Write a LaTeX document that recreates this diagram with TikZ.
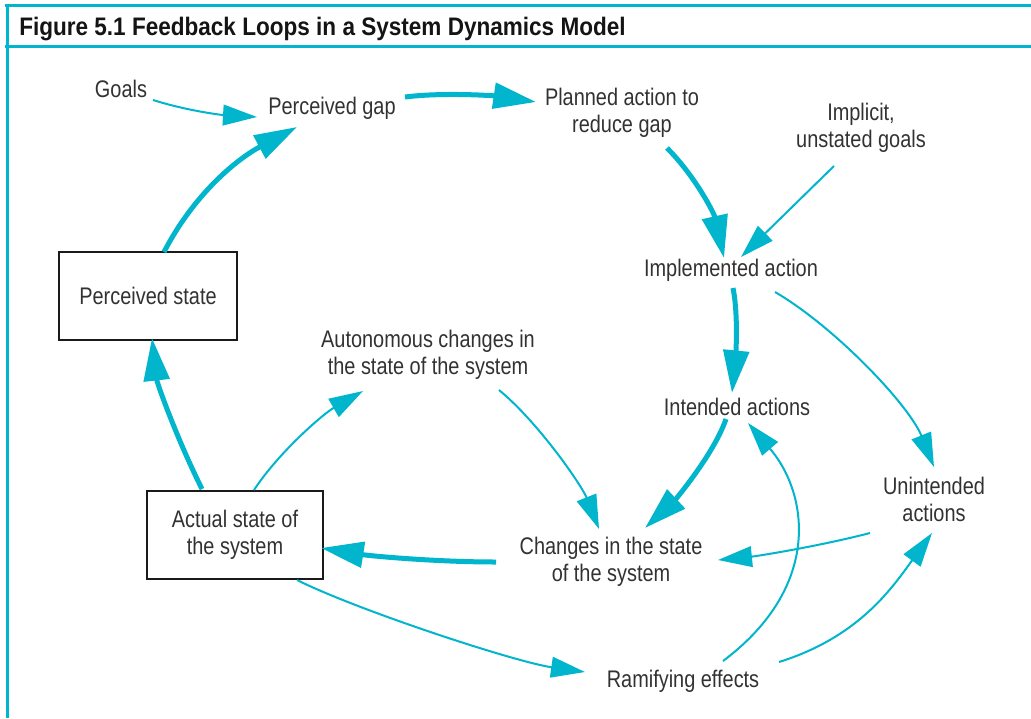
\documentclass[tikz,border=0pt]{standalone}
\usepackage{fontspec}
\setmainfont{Liberation Sans}[FakeStretch=0.83]
\newfontfamily\titlefont{Liberation Sans}[FakeStretch=0.89]
\usetikzlibrary{arrows.meta,calc}
\definecolor{cy}{RGB}{0,181,204}
\definecolor{txt}{RGB}{50,50,50}
\definecolor{boxc}{RGB}{26,26,26}
\definecolor{titc}{RGB}{20,20,20}
\begin{document}
\begin{tikzpicture}[x=0.75pt,y=-0.75pt,
  lbl/.style={text=txt, font=\fontsize{18pt}{20.25pt}\selectfont, align=center, inner sep=0pt},
  box/.style={lbl, draw=boxc, line width=1.5pt},
  thinarr/.style={draw=cy, line width=1.5pt, -{Triangle[length=25.5pt,width=15.5pt]}},
  thickarr/.style={draw=cy, line width=3.75pt, -{Triangle[length=32pt,width=19pt]}},
  frameline/.style={draw=cy, line width=2.25pt}
]
\useasboundingbox (0,0) rectangle (1031,718);
% frame
\draw[frameline] (5,5.5) -- (1031,5.5);
\draw[frameline] (5,46.5) -- (1031,46.5);
\draw[frameline] (7,4.5) -- (7,718);
\node[anchor=base west, inner sep=0pt, text=titc, font=\titlefont\bfseries\fontsize{19pt}{22pt}\selectfont] (title) at (19,35) {Figure 5.1 Feedback Loops in a System Dynamics Model};

% nodes
\node[lbl] (goals) at (121,89) {Goals};
\node[lbl] (gap) at (332,108) {Perceived gap};
\node[lbl] (planned) at (622,113) {Planned action to\\reduce gap};
\node[lbl] (implicit) at (861,128) {Implicit,\\unstated goals};
\node[lbl] (impl) at (731,270) {Implemented action};
\node[box, minimum width=133.5pt, minimum height=66pt] (pstate) at (148,296) {Perceived state};
\node[lbl] (auto) at (428,355) {Autonomous changes in\\the state of the system};
\node[box, minimum width=132pt, minimum height=66pt] (astate) at (235,535) {Actual state of\\the system};
\node[lbl] (intended) at (737,407) {Intended actions};
\node[lbl] (unint) at (934,499) {Unintended\\actions};
\node[lbl] (changes) at (611,562) {Changes in the state\\of the system};
\node[lbl] (ramify) at (683,681) {Ramifying effects};

% connectors
\draw[thinarr] ($(goals)+(32,11)$) .. controls +(35,11) and +(-35,-2) .. ($(gap)+(-75,9)$);
\draw[thickarr] ($(pstate)+(16,-44)$) .. controls +(30,-58) and +(-60,32) .. ($(gap)+(-35,19)$);
\draw[thickarr] ($(gap)+(73,-11)$) .. controls +(40,-5) and +(-40,-6) .. ($(planned)+(-86,-11)$);
\draw[thickarr] ($(planned)+(45,35)$) .. controls +(28,28) and +(-10,-45) .. ($(impl)+(-7,-12)$);
\draw[thinarr] ($(implicit)+(-27,38)$) -- ($(impl)+(10,-13)$);
\draw[thickarr] ($(impl)+(2,18)$) .. controls +(6,30) and +(3,-30) .. ($(intended)+(-5,-14)$);
\draw[thinarr] ($(impl)+(44,22)$) .. controls +(60,35) and +(-25,-62) .. ($(unint)+(0,-32)$);
\draw[thickarr] ($(intended)+(-11,12)$) .. controls +(-12,35) and +(30,-28) .. ($(changes)+(34,-34)$);
\draw[thinarr] ($(auto)+(71,35)$) .. controls +(40,33) and +(-17,-43) .. ($(changes)+(-12,-33)$);
\draw[thinarr] ($(astate)+(19,-45)$) .. controls +(25,-38) and +(-40,23) .. ($(auto)+(-65,36)$);
\draw[thickarr] ($(astate)+(-33,-46)$) .. controls +(-25,-50) and +(5,45) .. ($(pstate)+(4,42)$);
\draw[thickarr] ($(changes)+(-115,0)$) .. controls +(-60,0) and +(50,8) .. ($(astate)+(86,13)$);
\draw[thinarr] ($(unint)+(-64,34)$) .. controls +(-50,13) and +(40,-4) .. ($(changes)+(107,-2)$);
\draw[thinarr] ($(astate)+(62,45)$) .. controls +(60,30) and +(-70,-10) .. ($(ramify)+(-98,-9)$);
\draw[thinarr] ($(ramify)+(40,-20)$) .. controls +(100,-75) and +(60,70) .. ($(intended)+(11,16)$);
\draw[thinarr] ($(ramify)+(96,-19)$) .. controls +(80,-25) and +(-40,55) .. ($(unint)+(-2,34)$);
\end{tikzpicture}
\end{document}
